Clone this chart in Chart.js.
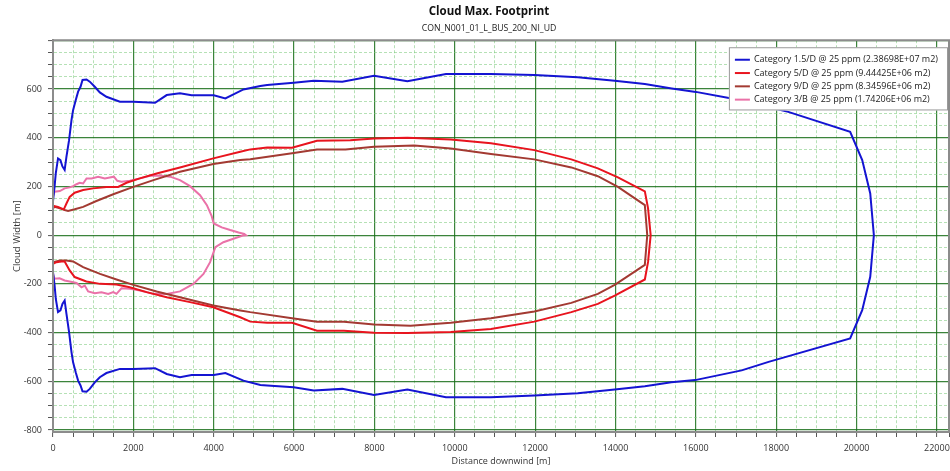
<!DOCTYPE html>
<html><head><meta charset="utf-8">
<script src="https://cdn.jsdelivr.net/npm/chart.js@4/dist/chart.umd.min.js"></script>
<style>html,body{margin:0;padding:0;background:#fff}#wrap{width:950px;height:471px}</style>
</head><body><div id="wrap"><canvas id="c" width="950" height="471"></canvas></div>
<script>
const chartTitle = 'Cloud Max. Footprint';
const chartSubtitle = 'CON_N001_01_L_BUS_200_NI_UD';
const xAxisTitle = 'Distance downwind [m]';
const yAxisTitle = 'Cloud Width [m]';
const seriesLabels = [
  'Category 1.5/D @ 25 ppm (2.38698E+07 m2)',
  'Category 5/D @ 25 ppm (9.44425E+06 m2)',
  'Category 9/D @ 25 ppm (8.34596E+06 m2)',
  'Category 3/B @ 25 ppm (1.74206E+06 m2)'
];
const seriesColors = ['#1414d2', '#e8141e', '#a33a32', '#ea72a8'];

// Category 1.5/D contour (upper edge then lower edge)
const blueX = [0,40,70,125,185,235,290,335,400,460,500,565,625,685,735,835,915,1040,1165,1330,1665,2000,2540,2830,3160,3450,4000,4290,4740,5160,5330,5990,6490,7200,7990,8820,9780,10900,11980,13060,13980,14730,15400,16000,16890,18300,19840,20140,20340,20430,
  20340,20140,19840,17810,17140,15980,15390,14730,13980,13060,11980,10900,9780,8820,7990,7200,6490,5990,5330,5160,4740,4290,4000,3450,3160,2830,2540,2000,1665,1330,1165,1040,915,835,735,685,625,565,500,460,400,335,290,235,185,125,70,40,0];
const blueY = [140,200,255,315,308,282,268,322,390,472,513,554,589,609,637,639,630,609,586,568,548,548,543,575,582,574,574,561,598,612,616,626,634,630,654,632,661,661,657,648,634,620,602,588,561,506,424,308,171,0,
  -171,-308,-424,-520,-555,-595,-604,-620,-634,-649,-658,-665,-665,-634,-656,-631,-638,-624,-617,-615,-597,-566,-574,-574,-583,-570,-546,-549,-549,-566,-583,-604,-631,-643,-641,-617,-597,-563,-522,-480,-398,-323,-268,-282,-309,-316,-262,-207,-152];

// Category 5/D contour
const redX = [0,20,125,210,270,335,415,540,750,1000,1330,1620,1830,2160,2580,3160,3990,4660,4910,5330,5950,6570,7400,7990,8820,9900,10900,11980,12900,13560,14060,14730,14810,14875,
  14810,14730,13980,13560,12900,11980,10900,9900,8820,7990,7240,6570,5950,5330,4910,4660,3990,3410,2830,2330,1910,1580,1170,830,540,415,290,210,85,0,0];
const redY = [116,120,116,110,106,130,157,174,185,192,198,198,215,233,253,278,315,342,352,360,359,387,390,397,400,393,377,349,311,274,237,180,110,0,
  -110,-182,-248,-282,-316,-355,-385,-398,-402,-401,-392,-392,-360,-360,-355,-337,-296,-275,-255,-234,-214,-203,-200,-190,-172,-145,-108,-108,-111,-118,116];

// Category 9/D contour
const brownX = [0,40,170,290,375,540,750,1080,1500,2000,2500,3160,3990,4660,4910,5950,6570,7280,7990,8990,9900,10900,11980,12900,13560,14060,14730,14790,
  14730,13980,13560,12900,11980,10900,9900,8900,7990,7240,6570,5950,4910,4660,3990,3160,2580,2000,1580,1170,750,500,330,170,0,0];
const brownY = [111,116,110,103,99,106,116,140,168,198,226,260,292,308,312,336,352,352,363,368,356,333,311,278,242,198,123,0,
  -122,-204,-241,-278,-313,-341,-360,-372,-367,-355,-355,-341,-316,-309,-289,-255,-231,-204,-182,-159,-131,-108,-104,-104,-111,111];

// Category 3/B contour
const pinkX = [0,40,170,290,415,500,585,665,750,835,960,1125,1290,1415,1515,1600,1705,1915,2165,2415,2665,2915,3160,3410,3660,3830,3950,4000,4200,4410,4620,4760,4800,
  4740,4490,4240,4040,3910,3745,3495,3160,2830,2500,2165,1915,1705,1580,1500,1375,1205,1040,875,790,710,585,415,290,165,40,0,0];
const pinkY = [160,178,181,192,196,201,209,215,212,233,233,240,233,237,240,223,219,223,233,244,245,240,226,201,164,123,78,48,32,21,11,5,0,
  -1,-15,-29,-49,-111,-159,-200,-231,-242,-241,-227,-220,-218,-241,-234,-241,-234,-238,-231,-207,-214,-196,-190,-186,-177,-179,-160,160];

const xTicksMajor = 2000, xTicksMinor = 500;
const yTicksMajor = 200, yTicksMinor = 50;

const seriesX = [blueX, redX, brownX, pinkX];
const seriesY = [blueY, redY, brownY, pinkY];

Chart.defaults.font.family = "'Open Sans', 'Noto Sans', sans-serif";
Chart.defaults.color = '#333';

const datasets = seriesLabels.map((label, i) => ({
  label,
  data: seriesX[i].map((x, j) => ({x, y: seriesY[i][j]})),
  borderColor: seriesColors[i],
  backgroundColor: seriesColors[i],
  borderWidth: 2,
  pointRadius: 0,
  showLine: true,
  tension: 0,
  fill: false
}));

const isMajorX = c => c.tick && c.tick.value % xTicksMajor === 0;
const isMajorY = c => c.tick && c.tick.value % yTicksMajor === 0;

const framePlugin = {
  id: 'frame',
  afterLayout(chart) {
    chart.boxes.forEach(b => {
      if (b.options && (b.options.text === chartTitle || b.options.text === chartSubtitle)) {
        const shift = 489 - (b.left + b.right) / 2;
        b.left += shift; b.right += shift;
      }
    });
  },
  afterDatasetsDraw(chart) {
    const {ctx, chartArea: a} = chart;
    ctx.save();
    ctx.strokeStyle = '#8c8c8c';
    ctx.lineWidth = 2;
    ctx.strokeRect(a.left, a.top, a.right - a.left, a.bottom - a.top);
    ctx.restore();
    // legend box
    ctx.save();
    ctx.font = "9px 'Open Sans', 'Noto Sans', sans-serif";
    let tw = 0;
    chart.data.datasets.forEach(d => { tw = Math.max(tw, ctx.measureText(d.label).width); });
    const rowH = 13.3;
    const boxW = 26 + tw + 9;
    const boxH = rowH * chart.data.datasets.length + 10;
    const bx = a.right - boxW - 1;
    const by = a.top + 7;
    ctx.fillStyle = '#fff';
    ctx.fillRect(bx, by, boxW, boxH);
    ctx.strokeStyle = '#9a9a9a';
    ctx.lineWidth = 1;
    ctx.strokeRect(bx + 0.5, by + 0.5, boxW - 1, boxH - 1);
    chart.data.datasets.forEach((d, i) => {
      const cy = by + 12.5 + i * rowH;
      ctx.strokeStyle = d.borderColor;
      ctx.lineWidth = 2;
      ctx.beginPath();
      ctx.moveTo(bx + 6, cy);
      ctx.lineTo(bx + 21, cy);
      ctx.stroke();
      ctx.fillStyle = '#222';
      ctx.textBaseline = 'middle';
      ctx.textAlign = 'left';
      ctx.fillText(d.label, bx + 25, cy);
    });
    ctx.restore();
  }
};

new Chart(document.getElementById('c'), {
  type: 'scatter',
  data: {datasets},
  plugins: [framePlugin],
  options: {
    responsive: false,
    animation: false,
    devicePixelRatio: 1,
    layout: {padding: {left: 4, right: 1, top: 0, bottom: 3}},
    plugins: {
      legend: {display: false},
      tooltip: {enabled: false},
      title: {display: true, text: chartTitle, color: '#111', font: {size: 11.5, weight: 'bold'}, padding: {top: 5, bottom: 0}},
      subtitle: {display: true, text: chartSubtitle, color: '#222', font: {size: 8.7}, padding: {top: 5, bottom: 6}}
    },
    scales: {
      x: {
        type: 'linear', position: 'bottom', min: 0, suggestedMax: 22300, bounds: 'data',
        ticks: {stepSize: xTicksMinor, autoSkip: false, includeBounds: false, maxRotation: 0, minRotation: 0,
          font: {size: 9}, color: '#333', padding: 6,
          callback: v => (v % xTicksMajor === 0 ? String(v) : '')},
        grid: {color: c => isMajorX(c) ? 'rgba(25,110,25,0.85)' : 'rgba(120,200,120,0.55)',
          lineWidth: c => isMajorX(c) ? 1.2 : 1, tickLength: 5, tickColor: '#555', tickWidth: 1},
        border: {display: true, color: '#8c8c8c', width: 2, dash: c => (c.tick && c.tick.value % xTicksMajor !== 0) ? [3, 2] : []},
        title: {display: true, text: xAxisTitle, font: {size: 9}, color: '#333', padding: {top: 2, bottom: 1}},
        afterFit: s => { s.height = 36; s.paddingRight = 0; }
      },
      y: {
        type: 'linear', position: 'left', min: -808, max: 800,
        ticks: {stepSize: yTicksMinor, autoSkip: false, includeBounds: false,
          font: {size: 9}, color: '#333', padding: 6,
          callback: v => (v % yTicksMajor === 0 && v < 800 ? String(v) : '')},
        grid: {color: c => isMajorY(c) ? 'rgba(25,110,25,0.85)' : 'rgba(120,200,120,0.55)',
          lineWidth: c => isMajorY(c) ? 1.2 : 1, tickLength: 5, tickColor: '#555', tickWidth: 1},
        border: {display: true, color: '#8c8c8c', width: 2, dash: c => (c.tick && c.tick.value % yTicksMajor !== 0) ? [3, 2] : []},
        title: {display: true, text: yAxisTitle, font: {size: 9.5}, color: '#333', padding: {top: 7.3, bottom: 0}},
        afterFit: s => { s.width = 49; }
      }
    }
  }
});
</script></body></html>
